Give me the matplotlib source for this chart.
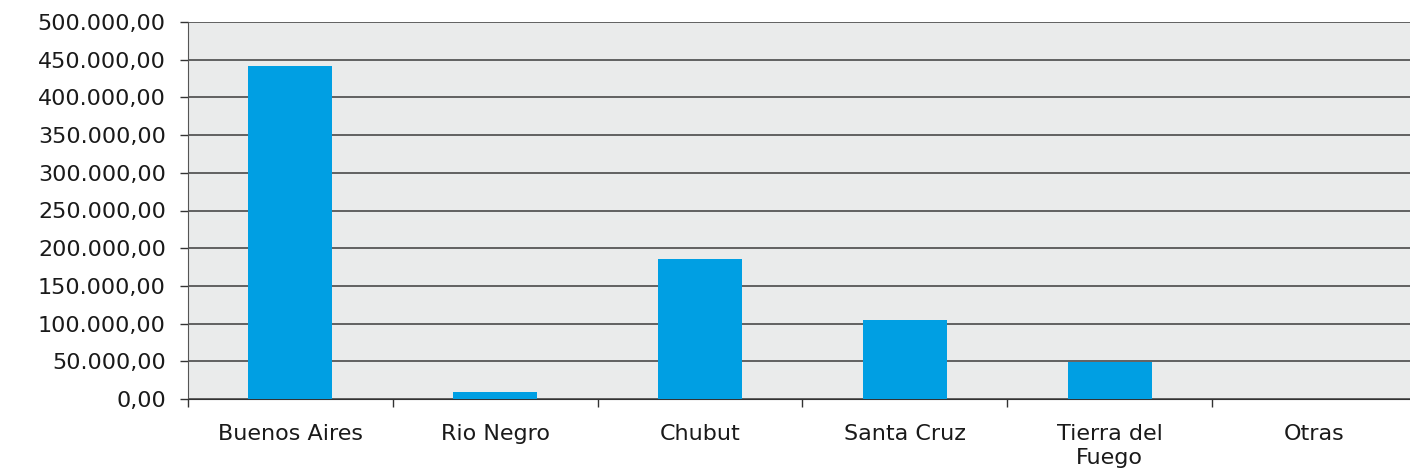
import numpy as np
import matplotlib
matplotlib.use("Agg")
import matplotlib.pyplot as plt
from matplotlib.ticker import FuncFormatter

# datos por provincia
provincias = ["Buenos Aires", "Rio Negro", "Chubut", "Santa Cruz", "Tierra del\nFuego", "Otras"]
valores = [441600, 9300, 185700, 104400, 48700, 0]
yticks = np.arange(0, 500001, 50000)

plt.rcParams['font.family'] = ['DejaVu Sans']

fig = plt.figure(figsize=(14.1, 4.72), dpi=100)
ax = fig.add_axes([188 / 1410, 1 - 399 / 472, (1417 - 188) / 1410, (399 - 22) / 472])
ax.set_facecolor("#EAEBEB")

x = np.arange(len(provincias))
ax.bar(x, valores, width=0.41, color="#009FE3", zorder=3)

ax.set_xlim(-0.5, len(provincias) - 0.5)
ax.set_ylim(0, 500000)
ax.set_yticks(yticks)
ax.yaxis.set_major_formatter(FuncFormatter(
    lambda v, p: "{:,.2f}".format(v).replace(",", "X").replace(".", ",").replace("X", ".")))
ax.grid(axis="y", color="#4a4a4a", linewidth=1.2, zorder=1)

# ticks de categoria en los bordes
ax.set_xticks(np.arange(len(provincias) + 1) - 0.5, minor=False)
ax.set_xticklabels([])
ax.set_xticks(x, minor=True)
ax.set_xticklabels(provincias, minor=True, fontsize=16, color="#1a1a1a")
ax.tick_params(axis="x", which="minor", length=0, pad=18)
ax.tick_params(axis="x", which="major", length=6, width=1, color="#333333")
ax.tick_params(axis="y", labelsize=16, labelcolor="#1a1a1a", length=6, width=1,
               color="#333333", pad=10)
for lbl in ax.get_xticklabels(minor=True):
    lbl.set_linespacing(1.25)

for s in ["top", "right"]:
    ax.spines[s].set_visible(False)
ax.spines["left"].set_color("#555555")
ax.spines["bottom"].set_color("#333333")

fig.savefig("out.png", dpi=100)
